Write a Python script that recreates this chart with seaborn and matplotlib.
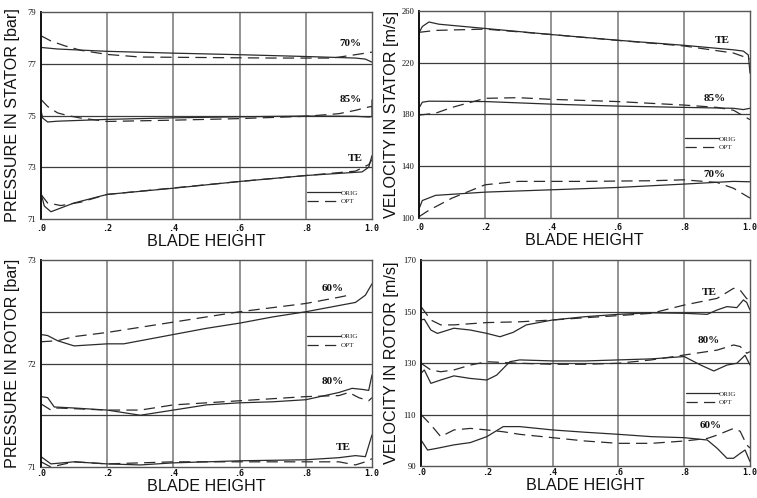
import matplotlib
matplotlib.use("Agg")
import matplotlib.pyplot as plt
import seaborn as sns
import pandas as pd
from matplotlib.lines import Line2D

# ---------------- data ----------------
xtick_vals = [0, 0.2, 0.4, 0.6, 0.8, 1.0]
xtick_labels = [".0", ".2", ".4", ".6", ".8", "1.0"]

# Panel 1: pressure in stator [bar]
p1_yticks = [71, 73, 75, 77, 79]
p1_hlines = [73, 75, 77]
p1_70_orig_x = [0, 0.05, 0.2, 0.4, 0.6, 0.8, 0.95, 0.98, 1.0]
p1_70_orig_y = [77.63, 77.57, 77.48, 77.41, 77.35, 77.28, 77.22, 77.18, 77.06]
p1_70_opt_x = [0, 0.03, 0.07, 0.12, 0.2, 0.3, 0.5, 0.7, 0.88, 0.94, 1.0]
p1_70_opt_y = [78.08, 77.88, 77.7, 77.52, 77.36, 77.26, 77.24, 77.22, 77.22, 77.33, 77.45]
p1_85_orig_x = [0, 0.005, 0.02, 0.05, 0.2, 0.4, 0.6, 0.8, 0.95, 0.99, 1.0, 1.0]
p1_85_orig_y = [75.2, 74.9, 74.75, 74.78, 74.85, 74.91, 74.95, 74.98, 74.97, 74.94, 74.96, 75.6]
p1_85_opt_x = [0, 0.02, 0.05, 0.08, 0.12, 0.2, 0.4, 0.6, 0.8, 0.9, 0.95, 0.99, 1.0]
p1_85_opt_y = [75.62, 75.35, 75.1, 75.0, 74.9, 74.77, 74.82, 74.88, 74.97, 75.07, 75.2, 75.33, 75.35]
p1_te_orig_x = [0, 0.01, 0.03, 0.1, 0.2, 0.4, 0.6, 0.8, 0.97, 0.99, 1.0]
p1_te_orig_y = [72.0, 71.5, 71.28, 71.62, 71.95, 72.19, 72.45, 72.68, 72.82, 73.0, 73.45]
p1_te_opt_x = [0, 0.02, 0.06, 0.12, 0.2, 0.4, 0.6, 0.8, 0.95, 0.99, 1.0]
p1_te_opt_y = [71.95, 71.62, 71.52, 71.65, 71.95, 72.2, 72.45, 72.68, 72.85, 73.1, 73.3]

# Panel 2: velocity in stator [m/s]
p2_yticks = [100, 140, 180, 220, 260]
p2_hlines = [140, 180, 220]
p2_te_orig_x = [0, 0.0, 0.01, 0.03, 0.06, 0.2, 0.4, 0.6, 0.8, 0.95, 0.98, 0.995, 1.0]
p2_te_orig_y = [207, 243, 248, 251.5, 249.8, 246.5, 241.8, 237.4, 233.5, 230, 229, 226, 212]
p2_te_opt_x = [0, 0.05, 0.2, 0.4, 0.6, 0.8, 0.95, 1.0]
p2_te_opt_y = [243.5, 245, 246, 241.8, 237.3, 233, 227.5, 223]
p2_85_orig_x = [0, 0.0, 0.01, 0.03, 0.2, 0.4, 0.6, 0.8, 0.95, 0.98, 1.0]
p2_85_orig_y = [165, 185, 189.5, 190.3, 190, 188, 186.5, 185.5, 184.8, 183.8, 184.8]
p2_85_opt_x = [0, 0.05, 0.1, 0.2, 0.3, 0.4, 0.6, 0.8, 0.9, 0.95, 1.0]
p2_85_opt_y = [179.5, 181, 185.5, 192.5, 193, 191.7, 190, 187.3, 185.5, 183.3, 176]
p2_70_orig_x = [0, 0.01, 0.05, 0.2, 0.4, 0.6, 0.8, 0.95, 1.0]
p2_70_orig_y = [107, 113.5, 117.5, 120, 121.8, 123.6, 126.2, 128.3, 128]
p2_70_opt_x = [0, 0.03, 0.1, 0.2, 0.3, 0.5, 0.7, 0.8, 0.9, 0.95, 1.0]
p2_70_opt_y = [101, 106, 115.4, 125.7, 128.3, 128.3, 128.8, 129.5, 127.5, 123, 115.4]

# Panel 3: pressure in rotor [bar]
p3_yticks = [71, 72, 73]
p3_hlines = [71.5, 72, 72.5]
p3_60_orig_x = [0, 0.02, 0.05, 0.1, 0.2, 0.25, 0.3, 0.4, 0.5, 0.6, 0.7, 0.8, 0.9, 0.95, 0.98, 1.0]
p3_60_orig_y = [72.28, 72.27, 72.22, 72.17, 72.19, 72.19, 72.22, 72.28, 72.34, 72.39, 72.45, 72.5, 72.56, 72.59, 72.66, 72.77]
p3_60_opt_x = [0, 0.05, 0.1, 0.2, 0.3, 0.4, 0.5, 0.6, 0.7, 0.8, 0.9, 0.93]
p3_60_opt_y = [72.21, 72.22, 72.26, 72.3, 72.35, 72.4, 72.45, 72.5, 72.54, 72.58, 72.64, 72.66]
p3_80_orig_x = [0, 0.02, 0.04, 0.1, 0.2, 0.3, 0.4, 0.5, 0.6, 0.7, 0.8, 0.9, 0.94, 0.97, 0.99, 1.0]
p3_80_orig_y = [71.68, 71.67, 71.58, 71.57, 71.55, 71.5, 71.55, 71.6, 71.62, 71.63, 71.65, 71.72, 71.76, 71.75, 71.74, 71.89]
p3_80_opt_x = [0, 0.03, 0.05, 0.2, 0.3, 0.4, 0.6, 0.8, 0.9, 0.93, 0.96, 0.99, 1.0]
p3_80_opt_y = [71.61, 71.55, 71.57, 71.55, 71.55, 71.6, 71.64, 71.68, 71.69, 71.72, 71.67, 71.64, 71.67]
p3_te_orig_x = [0, 0.03, 0.1, 0.2, 0.3, 0.4, 0.6, 0.8, 0.9, 0.95, 0.98, 1.0]
p3_te_orig_y = [71.1, 71.03, 71.05, 71.03, 71.02, 71.04, 71.06, 71.07, 71.09, 71.11, 71.1, 71.31]
p3_te_opt_x = [0, 0.03, 0.1, 0.2, 0.4, 0.6, 0.8, 0.9, 0.95, 0.98, 1.0]
p3_te_opt_y = [71.05, 71.0, 71.05, 71.03, 71.05, 71.05, 71.05, 71.05, 71.02, 71.05, 71.08]

# Panel 4: velocity in rotor [m/s]
p4_yticks = [90, 110, 130, 150, 170]
p4_hlines = [110, 130, 150]
p4_te_orig_x = [0, 0.01, 0.03, 0.05, 0.1, 0.15, 0.2, 0.24, 0.28, 0.32, 0.4, 0.5, 0.6, 0.7, 0.8, 0.87, 0.9, 0.93, 0.96, 0.98, 0.99, 1.0]
p4_te_orig_y = [146.7, 147, 142.8, 141.5, 143.5, 142.8, 141.5, 140.2, 141.9, 144.8, 146.7, 148, 148.9, 149.5, 149.3, 148.9, 150.6, 151.9, 151.5, 154.5, 153.5, 150.6]
p4_te_opt_x = [0, 0.03, 0.06, 0.1, 0.2, 0.3, 0.4, 0.5, 0.6, 0.7, 0.8, 0.9, 0.95, 0.97, 0.99, 1.0]
p4_te_opt_y = [151.9, 146.7, 144.8, 144.8, 145.7, 146, 146.7, 147.6, 148.4, 149.3, 152.5, 155.1, 159, 158.3, 155, 155]
p4_80_orig_x = [0, 0.01, 0.03, 0.06, 0.1, 0.15, 0.2, 0.23, 0.27, 0.3, 0.4, 0.5, 0.6, 0.7, 0.8, 0.85, 0.89, 0.93, 0.96, 0.985, 1.0]
p4_80_orig_y = [126, 127.3, 122.1, 123.4, 125, 124, 123.4, 125.3, 130.5, 131.2, 130.8, 130.8, 131.2, 131.6, 132.5, 129.2, 126.9, 129.2, 129.9, 133, 129.2]
p4_80_opt_x = [0, 0.03, 0.06, 0.1, 0.15, 0.2, 0.3, 0.4, 0.5, 0.6, 0.7, 0.8, 0.9, 0.95, 0.97, 0.99, 1.0]
p4_80_opt_y = [129.9, 127.3, 126.6, 127.3, 129.2, 130.5, 129.9, 129.5, 129.5, 129.9, 131.2, 133.1, 135, 137, 136.4, 133.8, 134.4]
p4_60_orig_x = [0, 0.02, 0.05, 0.1, 0.15, 0.2, 0.25, 0.3, 0.4, 0.5, 0.6, 0.7, 0.8, 0.87, 0.9, 0.93, 0.95, 0.97, 0.985, 1.0]
p4_60_orig_y = [100.1, 96.2, 96.9, 98.2, 99.1, 101.4, 105.3, 105.3, 104, 103.1, 102.3, 101.4, 101, 100.1, 96.9, 93, 93, 94.9, 96.2, 91.7]
p4_60_opt_x = [0, 0.03, 0.06, 0.1, 0.15, 0.2, 0.25, 0.3, 0.4, 0.5, 0.6, 0.7, 0.8, 0.87, 0.9, 0.95, 0.97, 0.99, 1.0]
p4_60_opt_y = [110, 106, 101.4, 104, 104.6, 104, 103.3, 102.3, 101, 99.7, 98.8, 98.8, 99.7, 100.7, 102, 104.6, 103.5, 98.2, 97]

# ---------------- style ----------------
sns.set_style("white")
LINE_C = "#2b2b2b"
SANS = "Liberation Sans"
SERIF = "Liberation Serif"
MONO = "DejaVu Sans Mono"

fig = plt.figure(figsize=(7.57, 4.98), dpi=100)
W, H = 757, 498


def make_ax(left, right, top, bottom):
    return fig.add_axes([left / W, 1 - bottom / H, (right - left) / W, (bottom - top) / H])


def draw(ax, x, y, dashed):
    df = pd.DataFrame({"x": x, "y": y})
    ls = (0, (9, 5)) if dashed else "-"
    sns.lineplot(data=df, x="x", y="y", ax=ax, estimator=None, sort=False,
                 color=LINE_C, linewidth=0.9, linestyle=ls)


def setup(ax, ylim, yticks, hlines, ylabel, ylab_x, xlab_y, xpad):
    ax.set_xlim(0, 1)
    ax.set_ylim(*ylim)
    for v in [0.2, 0.4, 0.6, 0.8]:
        ax.axvline(v, color="#8a8a8a", lw=1.3, zorder=0)
    for v in hlines:
        ax.axhline(v, color="#3c3c3c", lw=0.9, zorder=0)
    ax.set_xticks(xtick_vals)
    ax.set_xticklabels(xtick_labels, fontfamily=MONO, fontweight="bold", fontsize=6)
    ax.set_yticks(yticks)
    ax.set_yticklabels([str(t) for t in yticks], fontfamily=SERIF, fontsize=6.2)
    ax.tick_params(axis="both", length=0, colors="#111111")
    ax.tick_params(axis="x", pad=xpad)
    ax.tick_params(axis="y", pad=3.5)
    for s in ax.spines.values():
        s.set_color("#555555")
        s.set_linewidth(1.0)
    ax.spines["left"].set_color("#111111")
    ax.spines["left"].set_linewidth(1.4)
    ax.set_xlabel("BLADE HEIGHT", fontfamily=SANS, fontsize=11.6, color="#111111")
    ax.set_ylabel(ylabel, fontfamily=SANS, fontsize=11.6, color="#111111")
    ax.xaxis.set_label_coords(0.5, xlab_y)
    ax.yaxis.set_label_coords(ylab_x, 0.5)


def tag(ax, x, y, s):
    ax.text(x, y, s, fontfamily=SERIF, fontweight="bold", fontsize=8,
            ha="center", va="center", color="#111111")


def legend(ax, yc):
    handles = [Line2D([], [], color=LINE_C, lw=0.9, linestyle="-"),
               Line2D([], [], color=LINE_C, lw=0.9, linestyle=(0, (9, 5)))]
    lg = ax.legend(handles, ["ORIG", "OPT"], loc="center left", bbox_to_anchor=(0.805, yc),
                   frameon=False, handlelength=4.6, handletextpad=0.0, borderpad=0,
                   borderaxespad=0, labelspacing=0.35,
                   prop={"family": SERIF, "size": 5.2})
    return lg


# Panel 1
ax1 = make_ax(41, 372, 12, 219)
draw(ax1, p1_70_orig_x, p1_70_orig_y, False)
draw(ax1, p1_70_opt_x, p1_70_opt_y, True)
draw(ax1, p1_85_orig_x, p1_85_orig_y, False)
draw(ax1, p1_85_opt_x, p1_85_opt_y, True)
draw(ax1, p1_te_orig_x, p1_te_orig_y, False)
draw(ax1, p1_te_opt_x, p1_te_opt_y, True)
setup(ax1, (71, 79), p1_yticks, p1_hlines, "PRESSURE IN STATOR [bar]", -0.063, -0.072, 3.4)
tag(ax1, 0.935, 77.8, "70%")
tag(ax1, 0.935, 75.6, "85%")
tag(ax1, 0.95, 73.35, "TE")
legend(ax1, 0.107)

# Panel 2
ax2 = make_ax(419, 750, 11, 218)
draw(ax2, p2_te_orig_x, p2_te_orig_y, False)
draw(ax2, p2_te_opt_x, p2_te_opt_y, True)
draw(ax2, p2_85_orig_x, p2_85_orig_y, False)
draw(ax2, p2_85_opt_x, p2_85_opt_y, True)
draw(ax2, p2_70_orig_x, p2_70_orig_y, False)
draw(ax2, p2_70_opt_x, p2_70_opt_y, True)
setup(ax2, (100, 260), p2_yticks, p2_hlines, "VELOCITY IN STATOR [m/s]", -0.06, -0.072, 3.4)
tag(ax2, 0.917, 237.4, "TE")
tag(ax2, 0.892, 192, "85%")
tag(ax2, 0.892, 134, "70%")
legend(ax2, 0.362)

# Panel 3
ax3 = make_ax(41, 372, 260, 467)
draw(ax3, p3_60_orig_x, p3_60_orig_y, False)
draw(ax3, p3_60_opt_x, p3_60_opt_y, True)
draw(ax3, p3_80_orig_x, p3_80_orig_y, False)
draw(ax3, p3_80_opt_x, p3_80_opt_y, True)
draw(ax3, p3_te_orig_x, p3_te_orig_y, False)
draw(ax3, p3_te_opt_x, p3_te_opt_y, True)
setup(ax3, (71, 73), p3_yticks, p3_hlines, "PRESSURE IN ROTOR [bar]", -0.063, -0.056, 1.4)
tag(ax3, 0.882, 72.72, "60%")
tag(ax3, 0.882, 71.83, "80%")
tag(ax3, 0.912, 71.19, "TE")
legend(ax3, 0.61)

# Panel 4
ax4 = make_ax(421, 750, 260, 466)
draw(ax4, p4_te_orig_x, p4_te_orig_y, False)
draw(ax4, p4_te_opt_x, p4_te_opt_y, True)
draw(ax4, p4_80_orig_x, p4_80_orig_y, False)
draw(ax4, p4_80_opt_x, p4_80_opt_y, True)
draw(ax4, p4_60_orig_x, p4_60_orig_y, False)
draw(ax4, p4_60_opt_x, p4_60_opt_y, True)
setup(ax4, (90, 170), p4_yticks, p4_hlines, "VELOCITY IN ROTOR [m/s]", -0.066, -0.056, 1.4)
tag(ax4, 0.875, 157.4, "TE")
tag(ax4, 0.875, 138.7, "80%")
tag(ax4, 0.88, 105.9, "60%")
legend(ax4, 0.331)

fig.savefig("out.png", dpi=100)
